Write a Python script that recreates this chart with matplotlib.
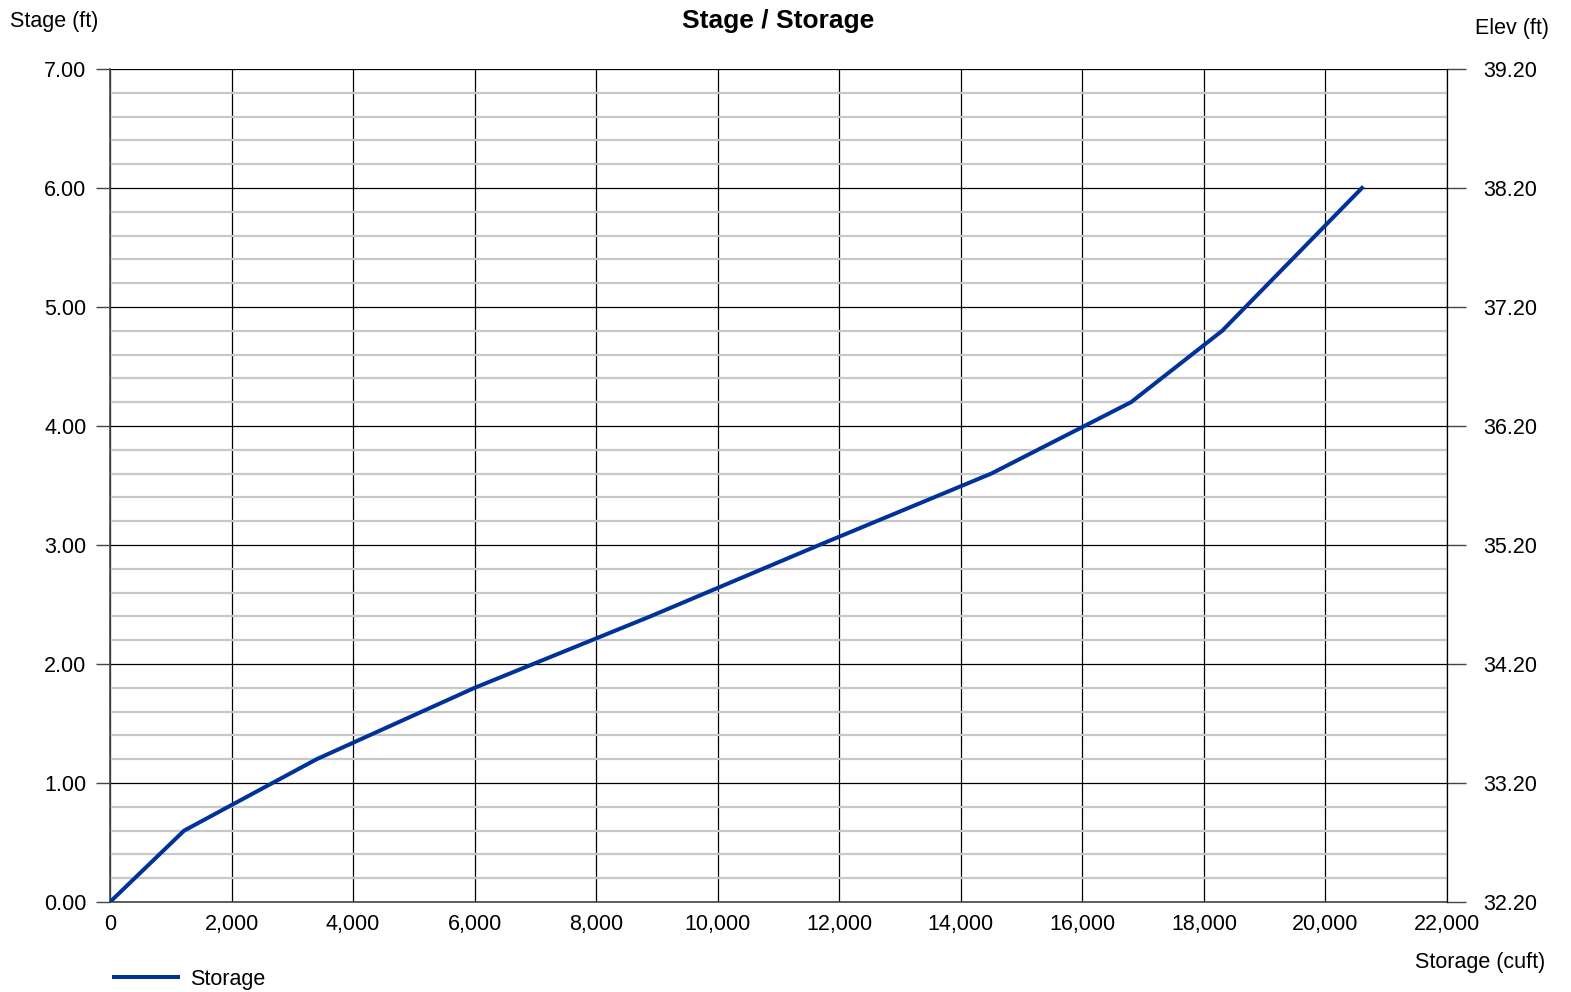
import numpy as np
import matplotlib
matplotlib.use('Agg')
from matplotlib import pyplot as plt
from matplotlib.ticker import MultipleLocator, FixedLocator, FuncFormatter

plt.rcParams['font.family'] = ['Liberation Sans', 'DejaVu Sans']

# storage (cuft) vs stage (ft)
storage = [0, 1220, 3400, 6000, 8890, 11670, 14500, 16800, 18300, 19450, 20600]
stage = [0.0, 0.6, 1.2, 1.8, 2.4, 3.0, 3.6, 4.2, 4.8, 5.4, 6.0]
elev_base = 32.20

fs = 15.5
fig = plt.figure(figsize=(15.71, 9.92), dpi=100)
ax = fig.add_axes([0.07002, 0.09073, 0.85108, 0.83971])

ax.plot(storage, stage, color='#003399', lw=2.9, label='Storage', zorder=5)

ax.set_xlim(0, 22000)
ax.set_ylim(0, 7)
ax.xaxis.set_major_locator(MultipleLocator(2000))
ax.yaxis.set_major_locator(MultipleLocator(1))
ax.yaxis.set_minor_locator(MultipleLocator(0.2))
ax.xaxis.set_major_formatter(FuncFormatter(lambda v, p: '{:,.0f}'.format(v)))
ax.yaxis.set_major_formatter(FuncFormatter(lambda v, p: '{:.2f}'.format(v)))

ax.grid(which='minor', axis='y', color='#c8c8c8', lw=1.6, zorder=1)
ax.grid(which='major', axis='both', color='black', lw=0.9, zorder=2)
ax.set_axisbelow(True)

for s in ['top', 'right']:
    ax.spines[s].set_visible(False)
for s in ['left', 'bottom']:
    ax.spines[s].set_color('#444444')
    ax.spines[s].set_linewidth(1.2)

ax.tick_params(axis='y', which='major', length=10, width=1, color='#444444',
               labelsize=fs, pad=7)
ax.tick_params(axis='y', which='minor', length=0)
ax.tick_params(axis='x', which='major', length=0, labelsize=fs, pad=9)

ax2 = ax.twinx()
ax2.set_ylim(elev_base, elev_base + 7)
ax2.yaxis.set_major_locator(FixedLocator([elev_base + k for k in range(8)]))
ax2.yaxis.set_major_formatter(FuncFormatter(lambda v, p: '{:.2f}'.format(v)))
ax2.tick_params(axis='y', length=14, width=1, color='#444444', labelsize=fs, pad=12)
for s in ['top', 'left', 'bottom']:
    ax2.spines[s].set_visible(False)
ax2.spines['right'].set_color('black')
ax2.spines['right'].set_linewidth(0.9)

fig.text(0.4952, 0.979, 'Stage / Storage', ha='center', va='center',
         fontsize=19, fontweight='bold')
fig.text(0.0064, 0.978, 'Stage (ft)', ha='left', va='center', fontsize=fs)
fig.text(0.9857, 0.971, 'Elev (ft)', ha='right', va='center', fontsize=fs)
fig.text(0.9835, 0.030, 'Storage (cuft)', ha='right', va='center', fontsize=fs)

ax.legend(loc='center left', bbox_to_anchor=(0.060, 0.013), bbox_transform=fig.transFigure,
          frameon=False, fontsize=fs, handlelength=3.0, handletextpad=0.55)

fig.savefig('out.png', dpi=100)
